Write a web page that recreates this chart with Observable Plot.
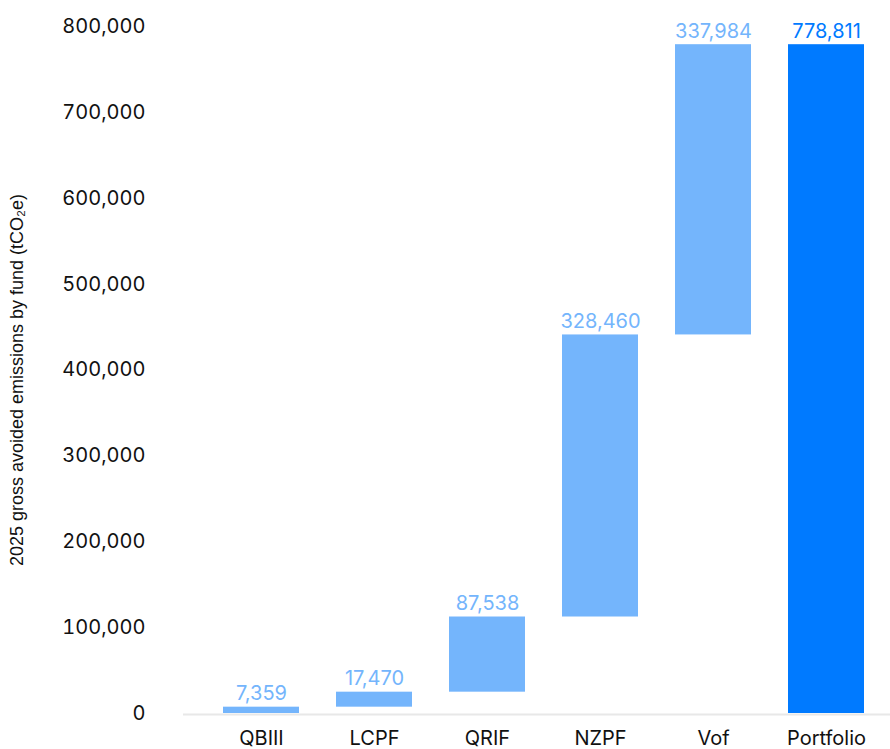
<!DOCTYPE html>
<html><head><meta charset="utf-8">
<script src="https://cdn.jsdelivr.net/npm/d3@7"></script>
<script src="https://cdn.jsdelivr.net/npm/@observablehq/plot@0.6"></script>
<style>body{margin:0;background:#fff}</style>
</head><body><div id="chart"></div>
<script>
const funds = ["QBIII", "LCPF", "QRIF", "NZPF", "Vof", "Portfolio"];
const values = [7359, 17470, 87538, 328460, 337984, 778811];
const isTotal = [false, false, false, false, false, true];
const yTicks = [0, 100000, 200000, 300000, 400000, 500000, 600000, 700000, 800000];
const yLabel = "2025 gross avoided emissions by fund (tCO₂e)";
const lightBlue = "#74b5fc";
const darkBlue = "#007aff";

let cum = 0;
const rows = funds.map((f, i) => {
  if (isTotal[i]) return {fund: f, value: values[i], y1: 0, y2: values[i], total: true};
  const r = {fund: f, value: values[i], y1: cum, y2: cum + values[i], total: false};
  cum += values[i];
  return r;
});
const fmt = d3.format(",");

const chart = Plot.plot({
  width: 890, height: 749,
  marginLeft: 183, marginRight: 0, marginTop: 26, marginBottom: 36,
  style: {fontFamily: "Inter, sans-serif", fontSize: "20px", color: "#111", background: "#fff"},
  x: {domain: funds, paddingInner: 0.33, paddingOuter: 0.28, align: 0.6, label: null},
  y: {domain: [0, 800000], range: [713, 26], label: null},
  color: {type: "identity"},
  marks: [
    Plot.axisY({ticks: yTicks, tickSize: 0, tickPadding: 38, tickFormat: fmt, fontSize: 20, label: null}),
    Plot.axisX({tickSize: 0, tickPadding: 17, fontSize: 20, label: null}),
    Plot.ruleY([0], {stroke: "#e8e8e8", strokeWidth: 2, dy: 1}),
    Plot.barY(rows, {x: "fund", y1: "y1", y2: "y2", fill: d => d.total ? darkBlue : lightBlue}),
    Plot.text(rows, {x: "fund", y: "y2", text: d => fmt(d.value), fill: d => d.total ? darkBlue : lightBlue,
      lineAnchor: "bottom", dy: -7, fontSize: 20}),
    Plot.text([yLabel], {frameAnchor: "left", rotate: -90, dx: -166, dy: 10, textAnchor: "middle",
      lineAnchor: "middle", fontFamily: "Liberation Sans, Arial, sans-serif", fontSize: 18, fill: "#111"})
  ]
});
document.getElementById("chart").appendChild(chart);
</script>
</body></html>
